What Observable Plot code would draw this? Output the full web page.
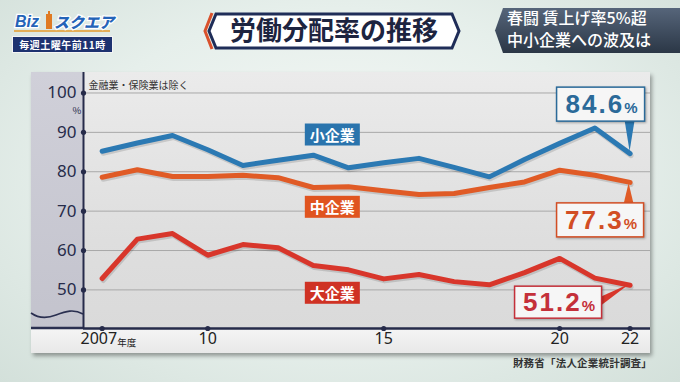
<!DOCTYPE html>
<html><head><meta charset="utf-8">
<script src="https://cdn.jsdelivr.net/npm/d3@7"></script>
<script src="https://cdn.jsdelivr.net/npm/@observablehq/plot@0.6"></script>
<style>
html,body{margin:0;padding:0;width:680px;height:382px;overflow:hidden;}
body{font-family:"Noto Sans CJK JP","Noto Sans",sans-serif;}
#stage{position:relative;width:680px;height:382px;overflow:hidden;
  background:radial-gradient(ellipse at 50% 45%, #f5f8f6 0%, #e6efeb 55%, #d3e0da 100%);}
.abs{position:absolute;}
#panel{left:31px;top:72px;width:619px;height:281px;background:linear-gradient(180deg,#ebebeb,#dedede 60%,#d9d9d9);box-shadow:2px 3px 4px rgba(0,0,0,0.35);}
#leftpanel{left:31px;top:72px;width:52px;height:256px;background:linear-gradient(180deg,#d0d0d9,#c3c3cd);}
#band{left:31px;top:328px;width:619px;height:25px;background:linear-gradient(180deg,#f5f5f5,#e8e8e8);}
#chart{left:0;top:0;}
#source{left:480px;width:172px;top:355px;text-align:right;font-size:10.5px;font-weight:700;color:#333;letter-spacing:0.2px;}
#sched{left:12px;top:36px;width:99px;height:15px;background:#1d3270;border:1px solid #f4f4f4;color:#fff;font-size:10px;font-weight:700;line-height:15px;text-align:center;letter-spacing:0.5px;}
</style></head>
<body>
<div id="stage">
  <div id="panel" class="abs"></div>
  <div id="leftpanel" class="abs"></div>
  <div id="band" class="abs"></div>
  <svg class="abs" style="left:0;top:0" width="680" height="382">
    <path d="M31,313 C38,318 46,319 56,315 S74,309 83,314" fill="none" stroke="#2a2f50" stroke-width="1.6"/>
    <line x1="31" y1="328" x2="83" y2="328" stroke="#2a2f50" stroke-width="2.5"/>
  </svg>
  <div id="chart" class="abs"></div>
  <!-- header -->
  <svg class="abs" style="left:0;top:0" width="680" height="60">
    <defs>
      <linearGradient id="rg" x1="0" y1="0" x2="0" y2="1">
        <stop offset="0" stop-color="#56657a"/><stop offset="1" stop-color="#2b3746"/>
      </linearGradient>
    </defs>
    <!-- logo -->
    <line x1="14" y1="31" x2="110" y2="31" stroke="#e59a2a" stroke-width="1.5"/>
    <text x="15" y="27" font-family="Liberation Sans" font-weight="700" font-style="italic" font-size="16" fill="#2463b8" stroke="#ffffff" stroke-width="2.5" paint-order="stroke">Biz</text>
    <rect x="46" y="14" width="6" height="15" fill="#e07a22"/>
    <rect x="48" y="11" width="2" height="3" fill="#e07a22"/>
    <text x="54" y="28" font-family="Noto Sans CJK JP" font-weight="900" font-style="italic" font-size="15" fill="#2463b8" stroke="#ffffff" stroke-width="2.5" paint-order="stroke">スクエア</text>
    <!-- title -->
    <polyline points="212,13 205,31 212,49" fill="none" stroke="#d9512c" stroke-width="3"/>
    <polygon points="216,14 452,14 459,31 452,48 216,48 209,31" fill="#ffffff" stroke="#1f2d58" stroke-width="3"/>
    <text x="334" y="40" text-anchor="middle" font-family="Noto Sans CJK JP" font-weight="700" font-size="26" fill="#1d2440">労働分配率の推移</text>
    <!-- right box -->
    <polygon points="503,8 680,8 680,53 503,53 495,30.5" fill="url(#rg)"/>
    <text x="507" y="24" font-family="Noto Sans CJK JP" font-weight="500" font-size="16" fill="#ffffff">春闘 賃上げ率5%超</text>
    <text x="507" y="46" font-family="Noto Sans CJK JP" font-weight="500" font-size="16" fill="#ffffff">中小企業への波及は</text>
  </svg>
  <div id="sched" class="abs">毎週土曜午前11時</div>
  <div id="source" class="abs">財務省「法人企業統計調査」</div>
</div>
<script>
const years = [2007, 2008, 2009, 2010, 2011, 2012, 2013, 2014, 2015, 2016, 2017, 2018, 2019, 2020, 2021, 2022];
const smallCo = [85.2, 87.3, 89.2, 85.6, 81.6, 82.9, 84.2, 81.0, 82.3, 83.4, 81.1, 78.7, 83.1, 87.2, 91.1, 84.6];
const midCo   = [78.6, 80.5, 78.8, 78.8, 79.1, 78.5, 76.0, 76.2, 75.2, 74.2, 74.5, 76.0, 77.4, 80.4, 79.1, 77.3];
const largeCo = [52.9, 62.9, 64.3, 58.8, 61.5, 60.7, 56.2, 55.1, 52.8, 53.9, 52.1, 51.3, 54.4, 58.0, 53.0, 51.2];
const seriesNames = ["小企業", "中企業", "大企業"];
const yTicks = [50, 60, 70, 80, 90, 100];
const xTicks = [2007, 2010, 2015, 2020, 2022];
const xTickLabels = ["2007", "10", "15", "20", "22"];
const yUnit = "%";
const xUnit = "年度";
const note = "金融業・保険業は除く";

const navy = "#262b4a";
const lineColors = ["#2b79b3", "#e05b26", "#d8362b"];
const boxColors = ["#2a74ad", "#e0541f", "#cf3224"];
const calloutText = ["#2b6a99", "#d24e24", "#c4303a"];

const seriesArrays = [smallCo, midCo, largeCo];
const rows = seriesArrays.map(arr => years.map((yr, i) => ({year: yr, value: arr[i]})));
const labelYear = 2013;
const labelDy = [-19, 21, 29];

const xDomain = [2006.47, 2022.58];
const yDomain = [40.2, 105.2];

const marks = [
  Plot.ruleY(yTicks, {stroke: "#a8a8a8", strokeWidth: 1})
];
rows.forEach((r, i) => {
  marks.push(Plot.line(r, {x: "year", y: "value", stroke: "#000", strokeOpacity: 0.13, strokeWidth: 5, dx: 1, dy: 2, strokeLinejoin: "round", strokeLinecap: "round"}));
  marks.push(Plot.line(r, {x: "year", y: "value", stroke: lineColors[i], strokeWidth: 5, strokeLinejoin: "round", strokeLinecap: "round"}));
});
marks.push(
  Plot.ruleX([xDomain[0]], {stroke: navy, strokeWidth: 2}),
  Plot.ruleY([yDomain[0]], {stroke: navy, strokeWidth: 2.5}),
  Plot.axisY({ticks: yTicks, anchor: "left", label: null, tickSize: 0, tickPadding: 7, fontSize: 17, fill: navy, fontFamily: "Noto Sans"}),
  Plot.dot(yTicks, {y: d => d, frameAnchor: "left", r: 2.6, fill: navy}),
  Plot.dot(xTicks, {x: d => d, frameAnchor: "bottom", r: 2.6, fill: navy}),
  Plot.text([xTicks[0]], {x: d => d, frameAnchor: "bottom", text: () => xTickLabels[0], textAnchor: "end", dx: 15, dy: 15, fontSize: 16, fill: "#222", fontFamily: "Noto Sans"}),
  Plot.text([xTicks[0]], {x: d => d, frameAnchor: "bottom", text: () => xUnit, textAnchor: "start", dx: 15, dy: 17, fontSize: 9.5, fill: "#222"}),
  Plot.text(xTicks.slice(1), {x: d => d, frameAnchor: "bottom", text: (d, i) => xTickLabels[i + 1], dy: 15, fontSize: 16, fill: "#222", fontFamily: "Noto Sans"}),
  Plot.text([yTicks[yTicks.length - 1]], {y: d => d, frameAnchor: "left", text: () => yUnit, dx: -11, dy: 18, fontSize: 9.5, fill: navy}),
  Plot.text([note], {frameAnchor: "top-left", text: d => d, textAnchor: "start", dx: 5, dy: 9, fontSize: 10, fill: "#333"})
);
rows.forEach((r, i) => {
  marks.push(Plot.text(r.filter(d => d.year === labelYear), {x: "year", y: "value", text: () => seriesNames[i], dx: 19, dy: labelDy[i], fill: "#fff", fontSize: 15, fontWeight: "bold"}));
});

const chart = Plot.plot({
  width: 680, height: 382,
  marginLeft: 83, marginRight: 30, marginTop: 72, marginBottom: 54,
  x: {domain: xDomain, axis: null},
  y: {domain: yDomain, axis: null},
  style: {background: "transparent", overflow: "visible", fontFamily: "Noto Sans CJK JP"},
  marks
});
document.getElementById("chart").appendChild(chart);

const ns = "http://www.w3.org/2000/svg";
// label boxes
[...chart.querySelectorAll("text")].filter(t => seriesNames.includes(t.textContent)).forEach(t => {
  const b = t.getBBox();
  const i = seriesNames.indexOf(t.textContent);
  const r = document.createElementNS(ns, "rect");
  r.setAttribute("x", b.x - 5);
  r.setAttribute("y", b.y + b.height / 2 - 11);
  r.setAttribute("width", b.width + 10);
  r.setAttribute("height", 22);
  r.setAttribute("fill", boxColors[i]);
  if (t.getAttribute("transform")) r.setAttribute("transform", t.getAttribute("transform"));
  t.parentNode.insertBefore(r, t);
});

// callouts
const sx = chart.scale("x"), sy = chart.scale("y");
const callouts = [
  {box: [-73, -66, 88, 34], ptr: [[-5, -33], [5, -33], [0, -2]]},
  {box: [-73, 21, 87, 34], ptr: [[-6, 22], [4, 22], [-1, 1]]},
  {box: [-115, 1.5, 87, 32], ptr: [[-29, 12], [-29, 21], [0, -1]]}
];
const g = d3.select(chart).append("g");
seriesArrays.forEach((arr, i) => {
  const v = arr[arr.length - 1];
  const px = sx.apply(years[years.length - 1]);
  const py = sy.apply(v);
  const c = callouts[i];
  g.append("polygon")
    .attr("points", c.ptr.map(p => [px + p[0], py + p[1]].join(",")).join(" "))
    .attr("fill", lineColors[i]);
  g.append("rect")
    .attr("x", px + c.box[0]).attr("y", py + c.box[1])
    .attr("width", c.box[2]).attr("height", c.box[3])
    .attr("fill", "#f6f6f6").attr("stroke", calloutText[i]).attr("stroke-width", 1.5)
    .style("filter", "drop-shadow(1px 1px 1px rgba(0,0,0,0.3))");
  const t = g.append("text")
    .attr("x", px + c.box[0] + c.box[2] / 2 + 1)
    .attr("y", py + c.box[1] + c.box[3] / 2 + 9)
    .attr("text-anchor", "middle")
    .attr("fill", calloutText[i])
    .style("font-family", "Liberation Sans, Arial, sans-serif")
    .style("font-weight", "700");
  t.append("tspan").attr("font-size", 26).attr("letter-spacing", 2).text(v.toFixed(1));
  t.append("tspan").attr("font-size", 15).text("%");
});
</script>
</body></html>
